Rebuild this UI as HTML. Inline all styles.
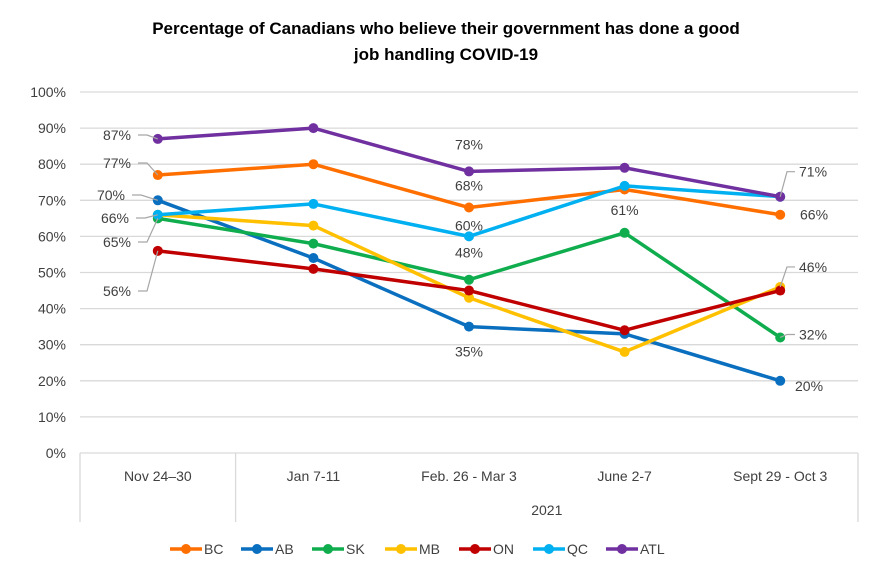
<!DOCTYPE html>
<html><head><meta charset="utf-8"><style>
body{margin:0;background:#fff;}
svg{font-family:"Liberation Sans",sans-serif;}
</style></head><body>
<svg id="c" width="873" height="575">
<text x="446" y="34" text-anchor="middle" font-size="17" font-weight="bold">Percentage of Canadians who believe their government has done a good</text>
<text x="446" y="60" text-anchor="middle" font-size="17" font-weight="bold">job handling COVID-19</text>
<g id="grid"></g><g id="lines"></g><g id="labels"></g><g id="legend"></g>
</svg>
<script>
const categories=["Nov 24–30","Jan 7-11","Feb. 26 - Mar 3","June 2-7","Sept 29 - Oct 3"];
const seriesNames=["BC","AB","SK","MB","ON","QC","ATL"];
const bc=[77,80,68,73,66];
const ab=[70,54,35,33,20];
const sk=[65,58,48,61,32];
const mb=[66,63,43,28,46];
const on=[56,51,45,34,45];
const qc=[66,69,60,74,71];
const atl=[87,90,78,79,71];
const yTicks=[0,10,20,30,40,50,60,70,80,90,100];
const colors=["#ff6f00","#0b6fbf","#10ad4f","#ffc000","#c00000","#00b0f0","#7030a0"];
const allSeries=[bc,ab,sk,mb,on,qc,atl];
const NS="http://www.w3.org/2000/svg";
const L=80,R=858,T=92,B=453;
const cw=(R-L)/categories.length;
const x=i=>L+cw*(i+0.5);
const y=v=>B-(v/100)*(B-T);
function mk(t,a,p){const e=document.createElementNS(NS,t);for(const k in a)e.setAttribute(k,a[k]);p.appendChild(e);return e;}
const g=document.getElementById('grid');
yTicks.forEach(t=>{
 const ln=mk('line',{x1:L,x2:R,y1:y(t),y2:y(t),stroke:'#d9d9d9','stroke-width':1.3},g);
 
 
 const tx=mk('text',{x:66,y:y(t)+5,'text-anchor':'end','font-size':14,fill:'#404040'},g);
 tx.textContent=t+'%';
 
 
});
[L,L+cw,R].forEach((xx,i)=>{const ln=mk('line',{x1:xx,x2:xx,y1:B,y2:522,stroke:'#d9d9d9','stroke-width':1.3},g);
 
 });
categories.forEach((c,i)=>{const tx=mk('text',{x:x(i),y:481,'text-anchor':'middle','font-size':14,fill:'#404040'},g);tx.textContent=c;
 
 });
const yr=mk('text',{x:(L+cw+R)/2,y:515,'text-anchor':'middle','font-size':14,fill:'#404040'},g);yr.textContent='2021';


const lg=document.getElementById('lines');
allSeries.forEach((s,k)=>{
 const pl=mk('polyline',{points:s.map((v,i)=>x(i)+','+y(v)).join(' '),fill:'none',stroke:colors[k],'stroke-width':3.5,'stroke-linejoin':'round'},lg);
 
 
 s.forEach((v,i)=>{const c=mk('circle',{cx:x(i),cy:y(v),r:5,fill:colors[k]},lg);
  
  });
});
const lb=document.getElementById('labels');
function lab(txt,xx,yy,anc){const t=mk('text',{x:xx,y:yy,'text-anchor':anc||'middle','font-size':14,fill:'#404040'},lb);t.textContent=txt;
 
 }
function lead(pts){const p=mk('polyline',{points:pts,fill:'none',stroke:'#a6a6a6','stroke-width':1.2},lb);
 
 }
const x0=x(0),x4=x(4);
function leftLab(v,rx,cy){lab(v+'%',rx,cy+5,'end');lead(`${rx+7},${cy} ${rx+16},${cy} ${x0},${y(v)}`);}
leftLab(atl[0],131,135);
leftLab(bc[0],131,163);
leftLab(ab[0],125,195);
leftLab(qc[0],129,218);
leftLab(sk[0],131,242);
leftLab(on[0],131,291);
lab(atl[2]+'%',x(2),y(atl[2])-22);
lab(bc[2]+'%',x(2),y(bc[2])-17);
lab(qc[2]+'%',x(2),y(qc[2])-6);
lab(sk[2]+'%',x(2),y(sk[2])-22);
lab(ab[2]+'%',x(2),y(ab[2])+30);
lab(sk[3]+'%',x(3),y(sk[3])-18);
lab(atl[4]+'%',799,y(atl[4])-20,'start');lead(`795,${y(atl[4])-25} 787,${y(atl[4])-25} ${x4},${y(atl[4])}`);
lab(bc[4]+'%',800,y(bc[4])+5,'start');
lab(mb[4]+'%',799,y(mb[4])-15,'start');lead(`795,${y(mb[4])-20} 787,${y(mb[4])-20} ${x4},${y(mb[4])}`);
lab(sk[4]+'%',799,y(sk[4])+2,'start');lead(`795,${y(sk[4])-3} 787,${y(sk[4])-3} ${x4},${y(sk[4])}`);
lab(ab[4]+'%',795,y(ab[4])+10,'start');
const le=document.getElementById('legend');
const lx=[170,241,312,385,459,533,606];
seriesNames.forEach((n,k)=>{
 const gg=mk('g',{},le);
 
 
 mk('line',{x1:lx[k],x2:lx[k]+32,y1:549,y2:549,stroke:colors[k],'stroke-width':3.5},gg);
 mk('circle',{cx:lx[k]+16,cy:549,r:5,fill:colors[k]},gg);
 const t=mk('text',{x:lx[k]+34,y:554,'font-size':14,fill:'#404040'},gg);t.textContent=n;
});
</script>
</body></html>
